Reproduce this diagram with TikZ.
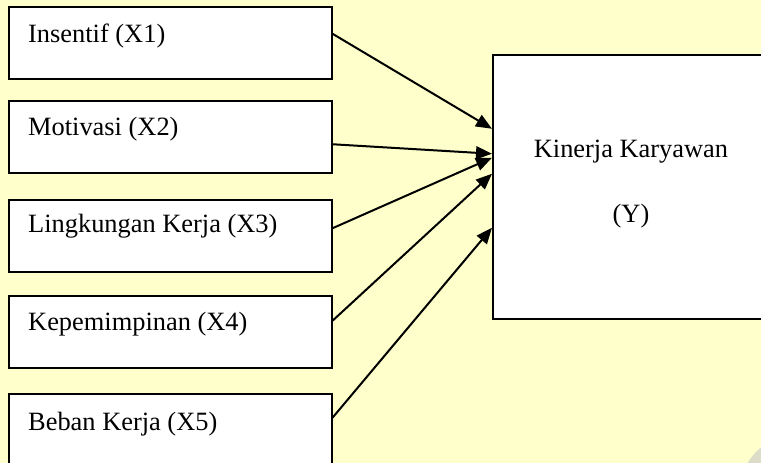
\documentclass[tikz,border=0pt]{standalone}
\usepackage{fontspec}
\setmainfont{Liberation Serif}
\usetikzlibrary{arrows.meta}
\definecolor{bgyellow}{RGB}{255,255,204}
\definecolor{wmgrey}{RGB}{220,220,200}
\begin{document}
\begin{tikzpicture}[x=1pt,y=-1pt,
  varbox/.style={draw=black, line width=1.5pt, fill=white, minimum width=323pt, minimum height=72pt, inner sep=0pt, anchor=north west},
  ybox/.style={draw=black, line width=1.5pt, fill=white, minimum width=300pt, minimum height=264pt, inner sep=0pt, anchor=north west},
  lbl/.style={anchor=base west, inner sep=0pt, font=\fontsize{26.4}{30}\selectfont},
  clbl/.style={anchor=base, inner sep=0pt, font=\fontsize{26.4}{30}\selectfont},
  conn/.style={line width=2pt, -{Triangle[length=16pt,width=13pt]}}]
\useasboundingbox (0,0) rectangle (761,463);
\clip (0,0) rectangle (761,463);
\fill[bgyellow] (0,0) rectangle (761,463);
\fill[wmgrey] (795,490) circle (54.5);
\node[varbox] (b1) at (8,6) {};
\node[varbox] (b2) at (8,100) {};
\node[varbox] (b3) at (8,199) {};
\node[varbox] (b4) at (8,295) {};
\node[varbox] (b5) at (8,393) {};
\node[ybox] (y) at (492,54) {};
\node[lbl] (t1) at (28,42) {Insentif (X1)};
\node[lbl] (t2) at (28,135) {Motivasi (X2)};
\node[lbl] (t3) at (28,232) {Lingkungan Kerja (X3)};
\node[lbl] (t4) at (28,330) {Kepemimpinan (X4)};
\node[lbl] (t5) at (28,430) {Beban Kerja (X5)};
\node[clbl] (ty1) at (631,157) {Kinerja Karyawan};
\node[clbl] (ty2) at (631,222) {(Y)};
\draw[conn] ([yshift=9pt]b1.east) -- ([yshift=58pt]y.west);
\draw[conn] ([yshift=-7.5pt]b2.east) -- ([yshift=33pt]y.west);
\draw[conn] ([yshift=7.5pt]b3.east) -- ([yshift=29pt]y.west);
\draw[conn] ([yshift=11pt]b4.east) -- ([yshift=13pt]y.west);
\draw[conn] ([yshift=12pt]b5.east) -- ([yshift=-41pt]y.west);
\end{tikzpicture}
\end{document}
